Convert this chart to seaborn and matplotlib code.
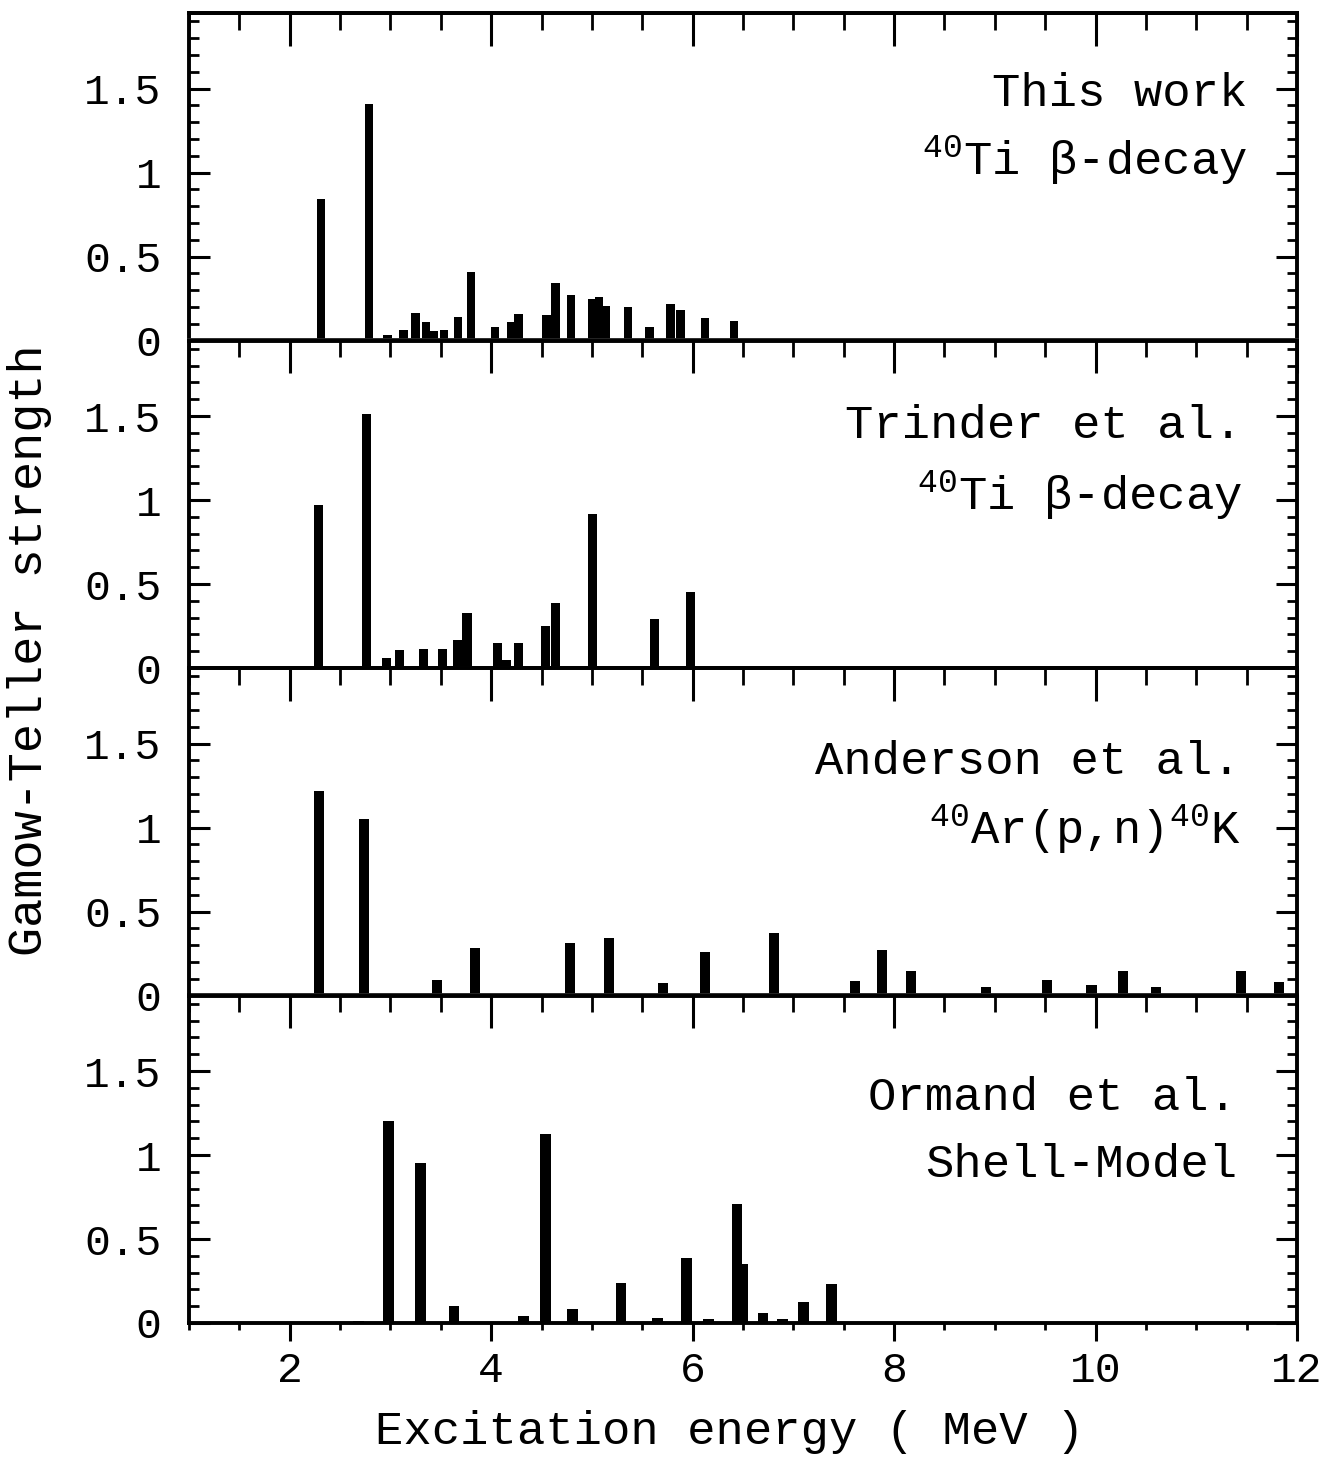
import numpy as np
import pandas as pd
import matplotlib
matplotlib.use("Agg")
import matplotlib.pyplot as plt
import seaborn as sns
from matplotlib.ticker import MultipleLocator, FixedLocator, FixedFormatter

# ---------------- data ----------------
this_work_energy = [2.31, 2.79, 2.97, 3.13, 3.25, 3.35, 3.43, 3.53, 3.67, 3.80,
                    4.04, 4.20, 4.27, 4.55, 4.64, 4.79, 5.00, 5.07, 5.14, 5.36,
                    5.57, 5.78, 5.88, 6.12, 6.41]
this_work_bgt = [0.84, 1.41, 0.03, 0.06, 0.165, 0.11, 0.054, 0.064, 0.137, 0.41,
                 0.08, 0.11, 0.157, 0.15, 0.34, 0.27, 0.25, 0.26, 0.206, 0.20,
                 0.08, 0.22, 0.18, 0.135, 0.117]

trinder_energy = [2.29, 2.76, 2.96, 3.09, 3.33, 3.52, 3.67, 3.76, 4.06, 4.15,
                  4.27, 4.54, 4.64, 5.01, 5.62, 5.98]
trinder_bgt = [0.97, 1.51, 0.058, 0.108, 0.114, 0.114, 0.168, 0.33, 0.15, 0.048,
               0.148, 0.25, 0.39, 0.914, 0.29, 0.45]

anderson_energy = [2.29, 2.74, 3.46, 3.84, 4.78, 5.17, 5.71, 6.12, 6.81, 7.61,
                   7.88, 8.17, 8.91, 9.52, 9.96, 10.27, 10.60, 11.44, 11.82]
anderson_bgt = [1.22, 1.05, 0.09, 0.28, 0.31, 0.34, 0.074, 0.26, 0.37, 0.086,
                0.27, 0.145, 0.05, 0.09, 0.06, 0.147, 0.048, 0.145, 0.08]

ormand_energy = [2.68, 2.98, 3.30, 3.63, 4.32, 4.54, 4.81, 5.29, 5.65, 5.94,
                 6.16, 6.44, 6.50, 6.70, 6.89, 7.10, 7.38]
ormand_bgt = [0.012, 1.20, 0.95, 0.10, 0.04, 1.125, 0.086, 0.24, 0.03, 0.385,
              0.026, 0.71, 0.35, 0.058, 0.022, 0.126, 0.235]

panel_titles = ["This work", "Trinder et al.", "Anderson et al.", "Ormand et al."]
panel_subtitles = [r"$^{40}$Ti β-decay", r"$^{40}$Ti β-decay",
                   r"$^{40}$Ar(p,n)$^{40}$K", "Shell-Model"]
y_tick_values = [0, 0.5, 1, 1.5]
y_tick_labels = ["0", "0.5", "1", "1.5"]
x_tick_values = [2, 4, 6, 8, 10, 12]
x_tick_labels = ["2", "4", "6", "8", "10", "12"]

# ---------------- style ----------------
sns.set_style("ticks")
plt.rcParams["font.family"] = ["Liberation Mono", "DejaVu Sans"]
plt.rcParams["mathtext.fontset"] = "custom"
plt.rcParams["mathtext.rm"] = "Liberation Mono"
plt.rcParams["mathtext.it"] = "Liberation Mono"
plt.rcParams["mathtext.bf"] = "Liberation Mono"

W, H = 1327, 1461
fig = plt.figure(figsize=(W / 100, H / 100), dpi=100)

left_px, right_px = 189, 1297
top_px, bottom_px = 13, 1323
ph = (bottom_px - top_px) / 4.0

series = [(this_work_energy, this_work_bgt, 0.083),
          (trinder_energy, trinder_bgt, 0.09),
          (anderson_energy, anderson_bgt, 0.10),
          (ormand_energy, ormand_bgt, 0.105)]

# text placement per panel (axes fraction): x_right, y_title, y_subtitle
text_pos = [(0.955, 0.754, 0.552),
            (0.951, 0.740, 0.528),
            (0.949, 0.712, 0.509),
            (0.946, 0.686, 0.482)]

axes = []
for i, (en, bgt, bw) in enumerate(series):
    y0 = top_px + ph * (i + 1)
    rect = [left_px / W, 1 - y0 / H, (right_px - left_px) / W, ph / H]
    ax = fig.add_axes(rect, sharex=axes[0] if axes else None)
    axes.append(ax)

    df = pd.DataFrame({"Energy": en, "Strength": bgt})
    native_w = np.min(np.diff(np.unique(df["Energy"])))
    sns.barplot(data=df, x="Energy", y="Strength", native_scale=True,
                width=bw / native_w, color="black", saturation=1,
                errorbar=None, linewidth=0, ax=ax)

    ax.set_xlim(1, 12)
    ax.set_ylim(0, 1.95)
    ax.set_xlabel("")
    ax.set_ylabel("")

    for s in ax.spines.values():
        s.set_visible(True)
        s.set_linewidth(2.8)
        s.set_color("black")

    # y ticks
    ax.yaxis.set_major_locator(FixedLocator(y_tick_values))
    ax.yaxis.set_major_formatter(FixedFormatter(y_tick_labels))
    ax.yaxis.set_minor_locator(MultipleLocator(0.1))
    ax.tick_params(axis="y", which="both", direction="in", left=True, right=True,
                   labelleft=True, labelright=False, colors="black")
    ax.tick_params(axis="y", which="major", length=15, width=2.2, pad=20,
                   labelsize=31)
    ax.tick_params(axis="y", which="minor", length=7, width=2.0)

    # x ticks: inward on top of every panel
    ax.xaxis.set_major_locator(MultipleLocator(2))
    ax.xaxis.set_minor_locator(MultipleLocator(0.5))
    sec = ax.secondary_xaxis("top")
    sec.xaxis.set_major_locator(MultipleLocator(2))
    sec.xaxis.set_minor_locator(MultipleLocator(0.5))
    sec.tick_params(axis="x", which="both", direction="in", labeltop=False,
                    colors="black")
    sec.tick_params(axis="x", which="major", length=24, width=2.2)
    sec.tick_params(axis="x", which="minor", length=12, width=2.0)
    sec.spines["top"].set_linewidth(2.8)

    if i < 3:
        ax.tick_params(axis="x", which="both", bottom=False, labelbottom=False)
    else:
        ax.xaxis.set_major_locator(FixedLocator(x_tick_values))
        ax.xaxis.set_major_formatter(FixedFormatter(x_tick_labels))
        ax.tick_params(axis="x", which="both", direction="out", bottom=True,
                       top=False, labelbottom=True, colors="black")
        ax.tick_params(axis="x", which="major", length=13, width=2.2, pad=7,
                       labelsize=31)
        ax.tick_params(axis="x", which="minor", length=5, width=2.0)

    xr, yt, ys = text_pos[i]
    ax.text(xr, yt, panel_titles[i], transform=ax.transAxes,
            ha="right", va="center", fontsize=34, color="black")
    ax.text(xr, ys, panel_subtitles[i], transform=ax.transAxes,
            ha="right", va="center", fontsize=34, color="black")

fig.text(730 / W, 1 - 1432 / H, "Excitation energy ( MeV )", ha="center",
         va="center", fontsize=34, color="black")
fig.text(30 / W, 1 - 650 / H, "Gamow-Teller strength", ha="center",
         va="center", rotation=90, fontsize=35, color="black")

fig.savefig("out.png", dpi=100)
